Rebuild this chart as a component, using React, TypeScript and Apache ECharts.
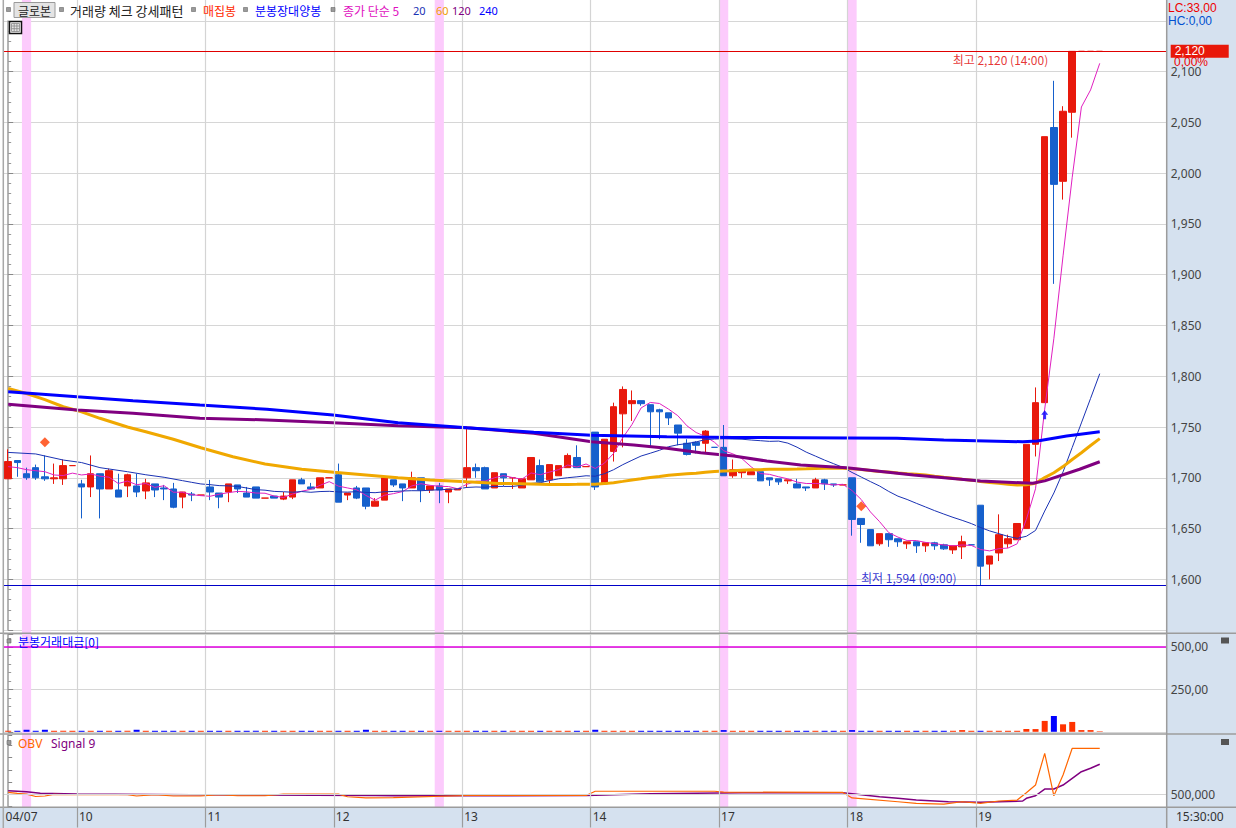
import React, { useEffect, useRef } from 'react';
import * as echarts from 'echarts';

// ---------------- data ----------------
const dayLabels = ['04/07', '10', '11', '12', '13', '14', '17', '18', '19'];

// 30-minute candles, each [open, close, low, high]
const day0407 = [
  [1699, 1716, 1699, 1728], [1717, 1715, 1701, 1717], [1704, 1700, 1698, 1710], [1710, 1700, 1698, 1713],
  [1701, 1699, 1697, 1722], [1699, 1700, 1694, 1714], [1699, 1712, 1693, 1718], [1712, 1712, 1712, 1712],
];
const day10 = [
  [1694, 1691, 1660, 1698], [1691, 1704, 1681, 1722], [1704, 1689, 1660, 1704], [1689, 1707, 1689, 1709],
  [1688, 1681, 1681, 1704], [1692, 1703, 1681, 1704], [1692, 1686, 1681, 1704], [1687, 1695, 1679, 1699],
  [1694, 1688, 1681, 1694], [1690, 1689, 1678, 1693], [1689, 1671, 1670, 1695], [1681, 1686, 1670, 1686],
  [1684, 1683, 1677, 1686], [1683, 1683, 1683, 1683],
];
const day11 = [
  [1691, 1686, 1678, 1698], [1685, 1681, 1670, 1685], [1686, 1694, 1676, 1694], [1693, 1689, 1685, 1693],
  [1685, 1681, 1681, 1691], [1691, 1680, 1680, 1691], [1680, 1680, 1680, 1680], [1682, 1680, 1680, 1682],
  [1679, 1682, 1678, 1686], [1681, 1698, 1679, 1698], [1698, 1694, 1694, 1700], [1691, 1689, 1689, 1695],
  [1690, 1700, 1690, 1700], [1700, 1700, 1700, 1700],
];
const day12 = [
  [1703, 1676, 1676, 1714], [1683, 1685, 1678, 1685], [1690, 1680, 1679, 1692], [1690, 1672, 1669, 1690],
  [1672, 1677, 1672, 1680], [1678, 1700, 1678, 1700], [1698, 1693, 1691, 1698], [1694, 1690, 1677, 1694],
  [1690, 1700, 1690, 1706], [1700, 1688, 1676, 1700], [1688, 1692, 1685, 1692], [1692, 1688, 1675, 1695],
  [1686, 1689, 1675, 1689], [1688, 1689, 1688, 1689],
];
const day13 = [
  [1700, 1710, 1690, 1750], [1710, 1707, 1700, 1714], [1710, 1689, 1689, 1711], [1690, 1705, 1690, 1705],
  [1704, 1700, 1692, 1704], [1700, 1700, 1689, 1700], [1690, 1699, 1690, 1699], [1698, 1720, 1698, 1720],
  [1712, 1696, 1696, 1718], [1698, 1713, 1692, 1713], [1702, 1712, 1702, 1712], [1710, 1722, 1710, 1724],
  [1720, 1710, 1710, 1732], [1711, 1711, 1711, 1711],
];
const day14 = [
  [1745, 1691, 1688, 1745], [1694, 1738, 1694, 1738], [1726, 1770, 1716, 1774], [1763, 1787, 1730, 1790],
  [1773, 1776, 1756, 1786], [1776, 1773, 1771, 1776], [1772, 1765, 1730, 1772], [1767, 1765, 1738, 1768],
  [1764, 1759, 1752, 1764], [1752, 1744, 1732, 1752], [1734, 1723, 1722, 1738], [1735, 1732, 1724, 1736],
  [1734, 1746, 1725, 1747], [1730, 1730, 1730, 1730],
];
const day17 = [
  [1730, 1702, 1702, 1752], [1702, 1708, 1700, 1718], [1705, 1708, 1700, 1708], [1703, 1706, 1703, 1706],
  [1706, 1697, 1697, 1706], [1700, 1698, 1692, 1700], [1699, 1696, 1693, 1699], [1697, 1698, 1694, 1698],
  [1694, 1690, 1690, 1699], [1691, 1690, 1687, 1691], [1690, 1698, 1690, 1700], [1698, 1694, 1688, 1699],
  [1694, 1693, 1691, 1694], [1693, 1693, 1693, 1693],
];
const day18 = [
  [1700, 1659, 1643, 1700], [1660, 1654, 1636, 1660], [1649, 1633, 1633, 1649], [1635, 1645, 1633, 1645],
  [1645, 1639, 1632, 1645], [1640, 1637, 1632, 1640], [1635, 1637, 1630, 1637], [1637, 1633, 1626, 1637],
  [1633, 1636, 1627, 1636], [1636, 1633, 1629, 1637], [1634, 1630, 1629, 1635], [1629, 1633, 1625, 1633],
  [1632, 1637, 1620, 1643], [1634, 1634, 1634, 1634],
];
const day19 = [
  [1673, 1613, 1594, 1673], [1615, 1623, 1600, 1623], [1626, 1644, 1618, 1664], [1635, 1640, 1631, 1644],
  [1639, 1655, 1639, 1655], [1650, 1733, 1650, 1733], [1733, 1774, 1721, 1789], [1774, 2036, 1774, 2036],
  [2045, 1989, 1891, 2091], [1992, 2061, 1974, 2066], [2060, 2120, 2035, 2120], [2120, 2120, 2120, 2120],
  [2120, 2120, 2120, 2120], [2120, 2120, 2120, 2120],
];

// 분봉거래대금 per bar
const amount0407 = [6, 6, 12, 6, 12, 6, 6, 6];
const amount10 = [6, 6, 6, 6, 6, 6, 12, 6, 6, 6, 6, 6, 6, 6];
const amount11 = [6, 6, 6, 6, 6, 6, 6, 6, 6, 6, 6, 6, 6, 6];
const amount12 = [6, 6, 6, 12, 6, 6, 6, 6, 6, 6, 6, 6, 6, 6];
const amount13 = [6, 6, 6, 6, 6, 6, 6, 6, 6, 6, 6, 6, 6, 6];
const amount14 = [12, 6, 6, 6, 6, 6, 6, 6, 6, 6, 6, 6, 6, 6];
const amount17 = [10, 6, 6, 6, 6, 6, 6, 6, 6, 6, 6, 6, 6, 6];
const amount18 = [10, 6, 6, 6, 6, 6, 6, 6, 6, 6, 6, 6, 10, 6];
const amount19 = [6, 6, 6, 6, 6, 16, 16, 64, 93, 44, 58, 10, 10, 3];

const ma5Head = [[0, 1711], [1, 1710], [2, 1708], [3, 1707]];
const ma20Head = [[0, 1725], [3, 1723.5], [6, 1717.5], [8, 1715], [10, 1710], [13, 1706], [15, 1703], [17, 1700.5]];
const ma60Head = [
  [0, 1788], [2, 1783], [4, 1777], [6, 1770], [8, 1765], [10, 1758.6], [13, 1750], [15, 1745.4], [18, 1738],
  [21, 1729.6], [24.5, 1720.8], [28, 1713.6], [32, 1708.4], [35.5, 1705.4], [39, 1702.7], [42.5, 1700],
  [46, 1697.8], [50, 1696], [53.5, 1694.5], [57, 1694],
];
const ma120Points = [
  [0, 1772.4], [7.5, 1766.8], [13.6, 1763.5], [20.9, 1758.6], [28.2, 1757], [35.4, 1754.3], [42.5, 1751.3],
  [50, 1749.3], [57.3, 1743.8], [63.6, 1735.5], [68.2, 1732.3], [71.8, 1729], [75.5, 1724.7], [79.1, 1721.5],
  [82.7, 1716.5], [86.4, 1712.6], [91.4, 1710], [98.7, 1702.7], [106, 1696.8], [111.7, 1694.6], [113, 1697],
  [116.8, 1708.4], [119, 1715.8],
];
const ma240Points = [
  [0, 1784.8], [7.5, 1779.9], [13.6, 1776], [20.9, 1771.7], [28.2, 1767.5], [35.4, 1761.8], [42.5, 1754.3],
  [50, 1749.3], [57.3, 1744.8], [63.6, 1742], [71.8, 1740.5], [79.1, 1739.8], [86.4, 1739.5], [96.9, 1738.9],
  [102, 1737.2], [110.6, 1735.5], [112.2, 1736.2], [115.4, 1741.1], [119, 1745.4],
];

// OBV and its 9-signal
const obvPoints = [
  [0, 516000], [1, 508000], [2, 502000], [3, 482000], [4, 486000], [5, 500000], [6, 497000], [13, 497000],
  [14, 486000], [16, 497000], [18, 486000], [21, 486000], [23, 497000], [25, 488000], [28, 488000],
  [30, 502000], [36, 502000], [37, 480000], [39, 470000], [42, 473000], [50, 490000], [63, 490000],
  [64, 525000], [77, 525000], [78, 518000], [91, 515000], [92, 470000], [97, 439000], [99, 426000],
  [102, 420000], [104, 439000], [106, 426000], [108, 445000], [110, 453000], [111, 513000], [112, 576000],
  [113, 836000], [114, 488000], [115, 658000], [116, 877000], [119, 877000],
];
const signalPoints = [
  [0, 529000], [2, 521000], [3.5, 508000], [7.5, 502000], [20, 497000], [40, 490000], [42, 488000],
  [50, 488000], [63, 490000], [70, 505000], [80, 512000], [91, 512000], [95, 480000], [97, 467000],
  [99, 453000], [102.5, 439000], [106, 434000], [110.6, 445000], [111, 467000], [112, 488000],
  [113, 543000], [114, 543000], [115, 576000], [116, 631000], [117, 685000], [118, 713000], [119, 746000],
];

const highlightBars = [2, 47, 78, 92];
const accumulationSignals = [[4, 1735], [93, 1672]];
const longBullSignals = [[113, 1762]];
const dayHigh = { bar: 116, price: 2120, time: '14:00' };
const dayLow = { bar: 106, price: 1594, time: '09:00' };
const lcText = 'LC:33,00';
const hcText = 'HC:0,00';
const changeText = '0,00%';
const lastTime = '15:30:00';

// ---------------- derived ----------------
const days = [day0407, day10, day11, day12, day13, day14, day17, day18, day19];
const candles = days.flat();
const amounts = [amount0407, amount10, amount11, amount12, amount13, amount14, amount17, amount18, amount19].flat();
const closes = candles.map((c) => c[1]);
const boundaries: number[] = [];
{
  let acc = 0;
  days.forEach((d) => {
    boundaries.push(acc - 0.5);
    acc += d.length;
  });
}

function movingAverage(n: number, head: number[][]) {
  const pts = head.map((p) => [p[0], p[1]]);
  for (let i = n - 1; i < closes.length; i++) {
    let s = 0;
    for (let k = i - n + 1; k <= i; k++) s += closes[k];
    pts.push([i, +(s / n).toFixed(2)]);
  }
  return pts;
}

const fmtComma = (v: number) => v.toLocaleString('en-US');

const RED = '#e8190c';
const BLUE = '#1660cc';
const FONT = '"Noto Sans CJK KR", "Noto Sans", sans-serif';
const NUMFONT = '"Noto Sans", sans-serif';
const TIGHTFONT = '"Liberation Sans", sans-serif';
const STRIP = '#d5e1ef';

const GL = 3.6;
const GRIGHT = 1166.7;
const GW = GRIGHT - GL;
const XMIN = -0.5;
const XMAX = 126.3;

function buildOption() {
  const candleData = candles.map((c, i) => [i, c[0], c[1], c[2], c[3]]);
  const amountData = amounts.map((v, i) => ({
    value: [i, v],
    itemStyle: { color: candles[i][1] >= candles[i][0] ? '#ff3300' : '#0000ff' },
  }));

  const maSeries = [
    { name: '5', data: movingAverage(5, ma5Head), color: '#e020c0', width: 1 },
    { name: '20', data: movingAverage(20, ma20Head), color: '#1a32b4', width: 1 },
    { name: '60', data: movingAverage(60, ma60Head), color: '#f0a800', width: 3 },
    { name: '120', data: ma120Points, color: '#800080', width: 3 },
    { name: '240', data: ma240Points, color: '#0000ff', width: 3 },
  ].map((m) => ({
    type: 'line',
    name: 'MA' + m.name,
    xAxisIndex: 1,
    yAxisIndex: 1,
    data: m.data,
    showSymbol: false,
    symbol: 'none',
    lineStyle: { color: m.color, width: m.width },
    z: 3,
    silent: true,
  }));

  const xAxisBase = (gridIndex: number) => ({
    type: 'value',
    gridIndex,
    min: XMIN,
    max: XMAX,
    show: false,
    splitLine: { show: false },
  });

  const textEl = (x: number, y: number, text: string, fill: string, size = 12, family = FONT, extra: any = {}) => ({
    type: 'text',
    x,
    y,
    z: 100,
    silent: true,
    style: { text, fill, fontSize: size, fontFamily: family, verticalAlign: 'middle', align: 'left', ...extra },
  });
  const square = (x: number, y: number) => ({
    type: 'rect',
    z: 100,
    silent: true,
    shape: { x, y, width: 4, height: 4 },
    style: { fill: '#9a9a9a', stroke: '#666', lineWidth: 0.6 },
  });
  const hline = (y: number) => ({
    type: 'line',
    z: 100,
    silent: true,
    shape: { x1: 0, y1: y, x2: 1236, y2: y },
    style: { stroke: '#9c9c9c', lineWidth: 1.5 },
  });

  return {
    animation: false,
    backgroundColor: '#ffffff',
    grid: [
      { left: GL, top: 0, width: GW, height: 807 },
      { left: GL, top: 20.9, width: GW, height: 609.2 },
      { left: GL, top: 634, width: GW, height: 97.8 },
      { left: GL, top: 735, width: GW, height: 71.5 },
    ],
    xAxis: [
      xAxisBase(0),
      xAxisBase(1),
      xAxisBase(2),
      {
        ...xAxisBase(3),
        show: true,
        position: 'bottom',
        axisLine: { show: false },
        axisTick: {
          show: true,
          customValues: boundaries.slice(1),
          length: 21,
          lineStyle: { color: '#9c9c9c', width: 1.2 },
        },
        axisLabel: {
          show: true,
          customValues: boundaries,
          align: 'left',
          margin: 4,
          padding: [0, 0, 0, 2],
          color: '#333',
          fontSize: 12,
          fontFamily: NUMFONT,
          formatter: (v: number) => {
            const k = boundaries.findIndex((b) => Math.abs(b - v) < 1e-6);
            return k >= 0 ? dayLabels[k] : '';
          },
        },
      },
    ],
    yAxis: [
      { type: 'value', gridIndex: 0, min: 0, max: 1, show: false, splitLine: { show: false } },
      {
        type: 'value',
        gridIndex: 1,
        position: 'right',
        min: 1550,
        max: 2150,
        interval: 50,
        axisLine: { show: true, lineStyle: { color: '#9c9c9c', width: 1.5 } },
        axisTick: { show: true, length: 5, lineStyle: { color: '#888' } },
        minorTick: { show: true, splitNumber: 5, length: 3, lineStyle: { color: '#999' } },
        axisLabel: {
          margin: 4,
          color: '#444',
          fontSize: 12,
          lineHeight: 11,
          fontFamily: NUMFONT,
          formatter: (v: number) => (v === 1550 || v === 2150 ? '' : fmtComma(v)),
        },
        splitLine: { show: true, lineStyle: { color: '#d6d6d6', width: 1 } },
      },
      {
        type: 'value',
        gridIndex: 2,
        position: 'right',
        min: 0,
        max: 575,
        interval: 250,
        axisLine: { show: true, lineStyle: { color: '#9c9c9c', width: 1.5 } },
        axisTick: { show: true, length: 5, lineStyle: { color: '#888' } },
        minorTick: { show: true, splitNumber: 5, length: 3, lineStyle: { color: '#999' } },
        axisLabel: {
          margin: 4,
          color: '#444',
          fontSize: 12,
          fontFamily: NUMFONT,
          formatter: (v: number) => (v === 250 || v === 500 ? v.toFixed(2).replace('.', ',') : ''),
        },
        splitLine: { show: true, lineStyle: { color: '#d6d6d6', width: 1 } },
      },
      {
        type: 'value',
        gridIndex: 3,
        position: 'right',
        min: 400000,
        max: 986000,
        interval: 100000,
        axisLine: { show: true, lineStyle: { color: '#9c9c9c', width: 1.5 } },
        axisTick: { show: true, length: 4, lineStyle: { color: '#888' } },
        axisLabel: {
          margin: 4,
          color: '#444',
          fontSize: 12,
          fontFamily: NUMFONT,
          formatter: (v: number) => (v === 500000 ? fmtComma(v) : ''),
        },
        splitLine: { show: false },
      },
    ],
    series: [
      {
        type: 'scatter',
        xAxisIndex: 0,
        yAxisIndex: 0,
        data: [],
        silent: true,
        z: 1,
        markArea: {
          silent: true,
          itemStyle: { color: '#fccbfc' },
          data: highlightBars.map((i) => [{ xAxis: i - 0.5 }, { xAxis: i + 0.5 }]),
        },
        markLine: {
          silent: true,
          symbol: ['none', 'none'],
          label: { show: false },
          lineStyle: { color: '#d4d4d4', width: 1.2, type: 'solid' },
          data: boundaries.slice(1).map((b) => ({ xAxis: b })),
        },
      },
      {
        type: 'candlestick',
        name: '가격',
        xAxisIndex: 1,
        yAxisIndex: 1,
        data: candleData,
        barWidth: 7,
        z: 2,
        itemStyle: { color: RED, color0: BLUE, borderColor: RED, borderColor0: BLUE, borderWidth: 1 },
        markLine: {
          silent: true,
          symbol: ['none', 'none'],
          data: [
            {
              yAxis: dayHigh.price,
              lineStyle: { color: '#e00000', width: 1, type: 'solid' },
              label: {
                show: true,
                position: 'end',
                distance: 4,
                formatter: fmtComma(dayHigh.price),
                color: '#ffffff',
                backgroundColor: '#e8180a',
                padding: [1, 24, 0, 4],
                fontSize: 12,
                lineHeight: 12,
                fontFamily: TIGHTFONT,
              },
            },
            {
              yAxis: dayLow.price,
              lineStyle: { color: '#0000c8', width: 1, type: 'solid' },
              label: { show: false },
            },
          ],
        },
      },
      ...maSeries,
      {
        type: 'scatter',
        name: '매집봉',
        xAxisIndex: 1,
        yAxisIndex: 1,
        data: accumulationSignals,
        symbol: 'diamond',
        symbolSize: 10,
        itemStyle: { color: '#ff3c00' },
        z: 5,
        silent: true,
      },
      {
        type: 'scatter',
        name: '분봉장대양봉',
        xAxisIndex: 1,
        yAxisIndex: 1,
        data: longBullSignals,
        symbol: 'path://M5 0 L10 5 L7 5 L7 10 L3 10 L3 5 L0 5 Z',
        symbolSize: [7, 9],
        itemStyle: { color: '#0000ff' },
        z: 5,
        silent: true,
      },
      {
        type: 'scatter',
        name: 'extremes',
        xAxisIndex: 1,
        yAxisIndex: 1,
        symbolSize: 0,
        z: 6,
        silent: true,
        data: [
          {
            value: [dayHigh.bar, dayHigh.price],
            label: {
              show: true,
              position: 'left',
              distance: 24,
              offset: [0, 8],
              formatter: `최고 ${fmtComma(dayHigh.price)} (${dayHigh.time})`,
              color: '#e00000',
              fontSize: 12,
              fontFamily: FONT,
            },
          },
          {
            value: [dayLow.bar, dayLow.price],
            label: {
              show: true,
              position: 'left',
              distance: 24,
              offset: [0, -8],
              formatter: `최저 ${fmtComma(dayLow.price)} (${dayLow.time})`,
              color: '#0000c8',
              fontSize: 12,
              fontFamily: FONT,
            },
          },
        ],
      },
      {
        type: 'bar',
        name: '분봉거래대금',
        xAxisIndex: 2,
        yAxisIndex: 2,
        data: amountData,
        barWidth: 6,
        silent: true,
        markLine: {
          silent: true,
          symbol: ['none', 'none'],
          label: { show: false },
          lineStyle: { color: '#e000e0', width: 1.5, type: 'solid' },
          data: [{ yAxis: 500 }],
        },
      },
      {
        type: 'line',
        name: 'OBV',
        xAxisIndex: 3,
        yAxisIndex: 3,
        data: obvPoints,
        showSymbol: false,
        symbol: 'none',
        lineStyle: { color: '#ff6600', width: 1.2 },
        silent: true,
        z: 4,
        markLine: {
          silent: true,
          symbol: ['none', 'none'],
          label: { show: false },
          lineStyle: { color: '#d4d4d4', width: 1.2, type: 'solid' },
          data: [{ yAxis: 500000 }],
        },
      },
      {
        type: 'line',
        name: 'Signal',
        xAxisIndex: 3,
        yAxisIndex: 3,
        data: signalPoints,
        showSymbol: false,
        symbol: 'none',
        lineStyle: { color: '#800080', width: 1.5 },
        silent: true,
        z: 3,
      },
    ],
    graphic: {
      elements: [
        { type: 'rect', z: -10, silent: true, shape: { x: GRIGHT, y: 0, width: 1236 - GRIGHT, height: 828 }, style: { fill: STRIP } },
        { type: 'rect', z: -10, silent: true, shape: { x: 0, y: 807.3, width: GRIGHT, height: 21 }, style: { fill: STRIP } },
        hline(633.3),
        hline(734),
        hline(807.3),
        { type: 'line', z: 100, silent: true, shape: { x1: 3.3, y1: 0, x2: 3.3, y2: 828 }, style: { stroke: '#a8a8a8', lineWidth: 1.5 } },
        { type: 'line', z: 100, silent: true, shape: { x1: GRIGHT, y1: 0, x2: GRIGHT, y2: 828 }, style: { stroke: '#9c9c9c', lineWidth: 1.5 } },
        // legend row
        square(6.5, 7.5),
        { type: 'rect', z: 100, silent: true, shape: { x: 14, y: 2.5, width: 41, height: 15 }, style: { fill: '#e4e4e4', stroke: '#9a9a9a', lineWidth: 1 } },
        textEl(18, 10.5, '글로본', '#222'),
        square(59.5, 7.5),
        textEl(70, 10.5, '거래량 체크 강세패턴', '#222', 13),
        square(191.5, 7.5),
        textEl(203, 10.5, '매집봉', '#ff2a00'),
        square(243.5, 7.5),
        textEl(255, 10.5, '분봉장대양봉', '#0000ff'),
        square(331, 7.5),
        textEl(343, 10.5, '종가 단순 5', '#e010c0'),
        textEl(413, 10.5, '20', '#1a32b4', 11, NUMFONT),
        textEl(436, 10.5, '60', '#f0a000', 11, NUMFONT),
        textEl(452, 10.5, '120', '#800080', 11, NUMFONT),
        textEl(479, 10.5, '240', '#0000ff', 11, NUMFONT),
        // grid icon
        { type: 'rect', z: 100, silent: true, shape: { x: 9.5, y: 21.5, width: 12, height: 12 }, style: { fill: '#ffffff', stroke: '#111', lineWidth: 1.5 } },
        { type: 'rect', z: 100, silent: true, shape: { x: 11.5, y: 23.5, width: 8, height: 8 }, style: { fill: '#e4e4e4', stroke: '#888', lineWidth: 0.8 } },
        { type: 'line', z: 101, silent: true, shape: { x1: 11.5, y1: 26, x2: 19.5, y2: 26 }, style: { stroke: '#888', lineWidth: 0.8 } },
        { type: 'line', z: 101, silent: true, shape: { x1: 11.5, y1: 28.7, x2: 19.5, y2: 28.7 }, style: { stroke: '#888', lineWidth: 0.8 } },
        { type: 'line', z: 101, silent: true, shape: { x1: 14.2, y1: 23.5, x2: 14.2, y2: 31.5 }, style: { stroke: '#888', lineWidth: 0.8 } },
        { type: 'line', z: 101, silent: true, shape: { x1: 16.9, y1: 23.5, x2: 16.9, y2: 31.5 }, style: { stroke: '#888', lineWidth: 0.8 } },
        // right strip texts
        textEl(1168, 7.5, lcText, '#ee0000', 12, TIGHTFONT),
        textEl(1168, 21, hcText, '#0050d0', 12, TIGHTFONT),
        textEl(1174, 62, changeText, '#ee0000', 12, TIGHTFONT),
        textEl(1176, 816, lastTime, '#333', 12, NUMFONT),
        // panel titles
        square(7, 639),
        textEl(18, 641.5, '분봉거래대금[0]', '#0000ff'),
        square(7, 740.5),
        textEl(18, 743, 'OBV', '#ff6600', 12, NUMFONT),
        textEl(51, 743, 'Signal 9', '#800080', 12, NUMFONT),
        // panel buttons
        { type: 'rect', z: 100, silent: true, shape: { x: 1221, y: 637.5, width: 8, height: 6 }, style: { fill: '#555' } },
        { type: 'rect', z: 100, silent: true, shape: { x: 1221, y: 739, width: 8, height: 6 }, style: { fill: '#555' } },
      ],
    },
  };
}

export default function App() {
  const ref = useRef<HTMLDivElement | null>(null);
  useEffect(() => {
    if (!ref.current) return;
    const chart = echarts.init(ref.current, undefined, { renderer: 'svg' });
    chart.setOption(buildOption() as any);
    return () => chart.dispose();
  }, []);
  return (
    <div
      ref={ref}
      style={{ position: 'fixed', left: 0, top: 0, width: 1236, height: 828, background: '#fff' }}
    />
  );
}
